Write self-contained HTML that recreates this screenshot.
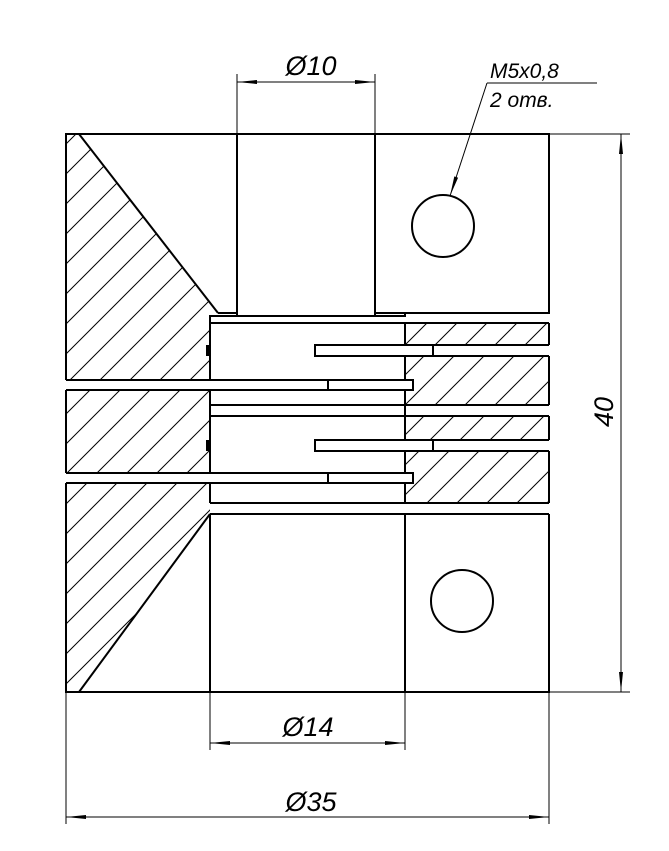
<!DOCTYPE html>
<html><head><meta charset="utf-8"><style>
html,body{margin:0;padding:0;background:#fff;}
svg{display:block;}
text{font-family:"Liberation Sans","DejaVu Sans",sans-serif;font-style:italic;fill:#000;}
</style></head><body>
<svg width="669" height="851" viewBox="0 0 669 851" xmlns="http://www.w3.org/2000/svg">
<defs>
<pattern id="h" patternUnits="userSpaceOnUse" width="30" height="30">
<line x1="-5" y1="35" x2="35" y2="-5" stroke="#000" stroke-width="1"/>
<line x1="-35" y1="35" x2="5" y2="-5" stroke="#000" stroke-width="1"/>
<line x1="25" y1="35" x2="65" y2="-5" stroke="#000" stroke-width="1"/>
</pattern>
<marker id="a" viewBox="0 0 20 6" refX="20" refY="3" markerWidth="20" markerHeight="6" markerUnits="userSpaceOnUse" orient="auto-start-reverse">
<path d="M0,1 L20,3 L0,5 Z" fill="#000"/>
</marker>
</defs>
<g fill="url(#h)" stroke="none">
<polygon points="66,134 79,134 218,313 210,316 210,380 66,380"/>
<rect x="66" y="390" width="144" height="83"/>
<polygon points="66,483 210,483 210,514 79,692 66,692"/>
<rect x="405" y="323" width="144" height="22"/>
<rect x="405" y="356" width="144" height="49"/>
<rect x="405" y="416" width="144" height="24"/>
<rect x="405" y="451" width="144" height="52"/>
</g>
<g fill="none" stroke="#000" stroke-width="2">
<polyline points="66,380 66,134 549,134 549,313 375,313"/>
<line x1="237" y1="134" x2="237" y2="316"/>
<line x1="375" y1="134" x2="375" y2="316"/>
<line x1="79" y1="134" x2="218" y2="313"/>
<polyline points="218,313 237,313"/>
<polyline points="210,380 210,316 405,316 405,313"/>
<line x1="210" y1="323" x2="549" y2="323"/>
<line x1="405" y1="323" x2="405" y2="503"/>
<line x1="549" y1="323" x2="549" y2="345"/>
<line x1="549" y1="356" x2="549" y2="405"/>
<line x1="210" y1="390" x2="210" y2="473"/>
<line x1="66" y1="390" x2="66" y2="473"/>
<line x1="210" y1="405" x2="549" y2="405"/>
<line x1="210" y1="416" x2="549" y2="416"/>
<line x1="549" y1="416" x2="549" y2="440"/>
<line x1="549" y1="451" x2="549" y2="503"/>
<line x1="210" y1="483" x2="210" y2="503"/>
<line x1="210" y1="503" x2="549" y2="503"/>
<line x1="210" y1="514" x2="549" y2="514"/>
<polyline points="66,483 66,692 549,692 549,514"/>
<line x1="210" y1="514" x2="210" y2="692"/>
<line x1="405" y1="514" x2="405" y2="692"/>
<line x1="210" y1="514" x2="79" y2="692"/>
<circle cx="443" cy="226" r="31"/>
<circle cx="462" cy="601" r="31"/>
</g>
<g fill="#fff" stroke="none">
<rect x="315" y="345" width="240" height="11"/>
<rect x="315" y="440" width="240" height="11"/>
<rect x="60" y="380" width="353" height="10"/>
<rect x="60" y="473" width="353" height="10"/>
</g>
<g stroke="#000" stroke-width="2" fill="none">
<polyline points="549,345 315,345 315,356 549,356"/>
<polyline points="549,440 315,440 315,451 549,451"/>
<polyline points="66,380 413,380 413,390 66,390"/>
<polyline points="66,473 413,473 413,483 66,483"/>
<line x1="433" y1="345" x2="433" y2="356"/>
<line x1="433" y1="440" x2="433" y2="451"/>
<line x1="328" y1="380" x2="328" y2="390"/>
<line x1="328" y1="473" x2="328" y2="483"/>
<line x1="66" y1="134" x2="66" y2="380"/>
<line x1="66" y1="390" x2="66" y2="473"/>
<line x1="66" y1="483" x2="66" y2="692"/>
</g>
<rect x="206" y="345" width="3" height="11" fill="#000"/>
<rect x="206" y="440" width="3" height="11" fill="#000"/>
<g stroke="#000" stroke-width="1" fill="none">
<line x1="237" y1="74" x2="237" y2="134"/>
<line x1="375" y1="74" x2="375" y2="134"/>
<line x1="237" y1="82" x2="375" y2="82" marker-start="url(#a)" marker-end="url(#a)"/>
<line x1="210" y1="692" x2="210" y2="750"/>
<line x1="405" y1="692" x2="405" y2="750"/>
<line x1="210" y1="743" x2="405" y2="743" marker-start="url(#a)" marker-end="url(#a)"/>
<line x1="66" y1="692" x2="66" y2="824"/>
<line x1="549" y1="692" x2="549" y2="824"/>
<line x1="66" y1="817" x2="549" y2="817" marker-start="url(#a)" marker-end="url(#a)"/>
<line x1="549" y1="134" x2="630" y2="134"/>
<line x1="549" y1="692" x2="630" y2="692"/>
<line x1="621" y1="134" x2="621" y2="692" marker-start="url(#a)" marker-end="url(#a)"/>
<polyline points="597,83 487,83"/>
<line x1="487" y1="83" x2="450" y2="196" marker-end="url(#a)"/>
</g>
<text x="311" y="75" font-size="27" text-anchor="middle">Ø10</text>
<text x="308" y="736" font-size="27" text-anchor="middle">Ø14</text>
<text x="311" y="811" font-size="27" text-anchor="middle">Ø35</text>
<text x="490" y="78" font-size="21">M5x0,8</text>
<text x="490" y="107" font-size="21">2 отв.</text>
<text transform="translate(613,412) rotate(-90)" font-size="27" text-anchor="middle">40</text>
</svg>
</body></html>
